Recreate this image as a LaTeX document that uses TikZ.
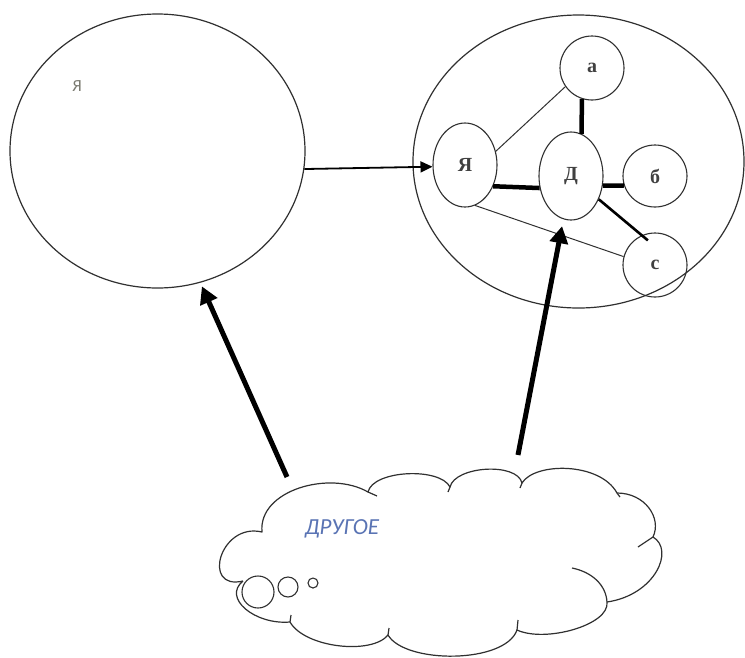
\documentclass[tikz,border=0pt]{standalone}
\usepackage{fontspec}
\setmainfont{Liberation Serif}
\newfontfamily\cloudfont{Carlito}
\usetikzlibrary{shapes.geometric,arrows.meta}
\definecolor{linegray}{HTML}{303030}
\definecolor{txtblue}{HTML}{5A74B4}
\definecolor{txtgray}{HTML}{7A7A70}
\definecolor{lblgray}{HTML}{404040}
\begin{document}
\begin{tikzpicture}[x=1pt,y=-1pt,line join=round,
  bigshape/.style={ellipse,draw=linegray,line width=1.2pt,inner sep=0pt},
  smallnode/.style={ellipse,draw=linegray,line width=1.1pt,inner sep=0pt,
    font=\fontsize{20}{20}\selectfont\bfseries,text=lblgray},
  thinlink/.style={draw=linegray,line width=1pt},
  thicklink/.style={draw=black,line width=4.5pt},
  midlink/.style={draw=black,line width=2.6pt},
  bigarrow/.style={draw=black,line width=5pt,-{Triangle[length=17pt,width=18pt]}},
  smallarrow/.style={draw=black,line width=1.8pt,-{Triangle[length=12pt,width=11pt]}},
  cloudline/.style={draw=linegray,line width=1.2pt},
  bubble/.style={circle,draw=linegray,line width=1.1pt,inner sep=0pt}]
\useasboundingbox[fill=white] (0,0) rectangle (745,657);

% big shapes
\node[bigshape,minimum width=295pt,minimum height=274pt] (big) at (157.5,151) {};
\node[font=\cloudfont\fontsize{17}{17}\selectfont,text=txtgray] (yalabel) at (77,86) {Я};
\node[bigshape,minimum width=331pt,minimum height=293pt] (right) at (578.5,161.5) {};

% inner nodes
\node[smallnode,minimum width=64pt,minimum height=64pt] (a) at (592,68) {а};
\node[smallnode,minimum width=64pt,minimum height=84pt] (ya) at (465,165) {Я};
\node[smallnode,minimum width=64pt,minimum height=88pt] (d) at (571,176) {Д};
\node[smallnode,minimum width=64pt,minimum height=62pt] (b) at (655,176) {б};
\node[smallnode,minimum width=64pt,minimum height=64pt] (c) at (655,265) {с};

% inner connectors
\draw[thinlink] (ya.24) -- (a.215);
\draw[thicklink] (a.-108) -- (d.76);
\draw[thicklink] (ya.-37) -- (d.201);
\draw[thicklink] (d.-17) -- (b.197);
\draw[midlink,shorten >=-8pt] (d.-40) -- (c.114);
\draw[thinlink] (ya.-76) -- (c.165);

% arrow between the two big shapes
\draw[smallarrow] (big.-7) -- (ya.183);

% cloud
\draw[cloudline] (243,581) .. controls (201,591) and (220,522) .. (262,532)
  .. controls (258,490) and (330,470) .. (368,492)
  .. controls (373,470) and (440,467) .. (450,487)
  .. controls (455,466) and (517,462) .. (522,483)
  .. controls (535,462) and (600,462) .. (617,493)
  .. controls (645,493) and (662,518) .. (653,537)
  .. controls (675,550) and (655,595) .. (607,602)
  .. controls (610,625) and (545,643) .. (517,630)
  .. controls (505,664) and (405,664) .. (388,635)
  .. controls (372,655) and (305,648) .. (290,622)
  .. controls (255,625) and (222,598) .. (243,581);
\draw[cloudline] (572,568) .. controls (592,572) and (606,585) .. (607,602);
\draw[cloudline] (368,492) -- (377,496);
\draw[cloudline] (450,487) -- (448,492);
\draw[cloudline] (522,483) -- (520,488);
\draw[cloudline] (617,493) -- (620,497);
\draw[cloudline] (653,537) -- (638,547);
\draw[cloudline] (517,630) -- (518,620);
\draw[cloudline] (388,635) -- (389,628);
\draw[cloudline] (290,622) -- (291,615);

\node[bubble,minimum size=32pt] (b1) at (258,592) {};
\node[bubble,minimum size=20pt] (b2) at (288,587) {};
\node[bubble,minimum size=10pt] (b3) at (313,583) {};

\node[font=\cloudfont\itshape\fontsize{23}{23}\selectfont,text=txtblue] (other) at (342,529) {ДРУГОЕ};

% thick arrows from the cloud
\coordinate (t1) at (287,477);
\coordinate (t2) at (518,455);
\draw[bigarrow,shorten >=4pt] (t1) -- (big.-72);
\draw[bigarrow,shorten >=7pt] (t2) -- (d.-100);
\end{tikzpicture}
\end{document}
